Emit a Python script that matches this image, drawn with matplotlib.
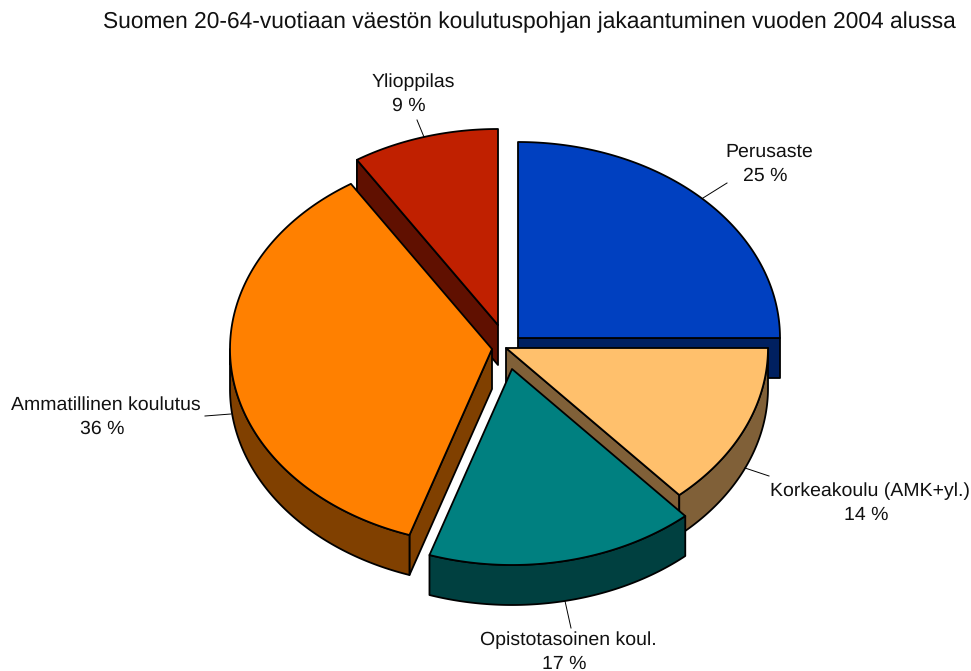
import numpy as np
import matplotlib
matplotlib.use("Agg")
import matplotlib.pyplot as plt

TITLE = "Suomen 20-64-vuotiaan väestön koulutuspohjan jakaantuminen vuoden 2004 alussa"
categories = ["Perusaste", "Korkeakoulu (AMK+yl.)", "Opistotasoinen koul.", "Ammatillinen koulutus", "Ylioppilas"]
percent_labels = ["25 %", "14 %", "17 %", "36 %", "9 %"]
values = [25.0, 13.5, 16.6, 35.85, 9.05]

top_colors = ["#0040C0", "#FFC06C", "#008080", "#FF8000", "#C02000"]
side_colors = ["#002060", "#806038", "#004040", "#804000", "#601000"]
apex_px = [(518, 338), (506, 348), (512, 369), (492, 349), (498, 325)]
label_px = [(769, 157), (870, 496), (568, 645.5), (106, 410), (413, 87)]
leaders_px = [((703, 198), (727, 183)), ((745, 468), (769, 476)), ((565, 601), (571, 628)),
              ((231, 414), (205, 416)), ((424, 137), (417, 120))]
draw_order = [4, 0, 3, 1, 2]
RX, RY, DEPTH = 262, 196, 40
START_ANGLE = 270
LINE_STEP, PCT_SHIFT = 23.5, -4

plt.rcParams["text.hinting"] = "no_hinting"
plt.rcParams["text.hinting_factor"] = 8
plt.rcParams["font.family"] = ["Liberation Sans", "DejaVu Sans"]

fig = plt.figure(figsize=(9.71, 6.71), dpi=100)
ax = fig.add_axes([0, 0, 1, 1])
ax.set_xlim(0, 971)
ax.set_ylim(671, 0)
ax.axis("off")

edges = START_ANGLE + np.concatenate([[0], np.cumsum(values)]) / sum(values) * 360


def rim(c, a0, a1, dy=0.0):
    t = np.radians(np.linspace(a0, a1, 160))
    return np.column_stack([c[0] + RX * np.cos(t), c[1] + dy + RY * np.sin(t)])


def poly(pts, fc, z):
    ax.fill(pts[:, 0], pts[:, 1], facecolor=fc, edgecolor="black", linewidth=1.3,
            joinstyle="round", zorder=z)


for z, i in enumerate(draw_order):
    c = np.array(apex_px[i], float)
    a0, a1 = edges[i], edges[i + 1]
    base = z * 10
    # cut faces whose outward normal points towards the viewer
    for a, facing in ((a0, -np.cos(np.radians(a0))), (a1, np.cos(np.radians(a1)))):
        if facing > 1e-6:
            e = rim(c, a, a)[0]
            poly(np.array([c, e, e + [0, DEPTH], c + [0, DEPTH]]), side_colors[i], base + 1)
    # outer curved wall: the part of the rim on the near half of the ellipse
    lo, hi = max(a0, 360), min(a1, 540)
    if hi > lo:
        poly(np.vstack([rim(c, lo, hi), rim(c, hi, lo, DEPTH)]), side_colors[i], base + 2)
    # top face
    poly(np.vstack([c, rim(c, a0, a1)]), top_colors[i], base + 3)

for (p, q) in leaders_px:
    ax.plot([p[0], q[0]], [p[1], q[1]], color="black", lw=0.7, zorder=100)

ax.text(529, 28.5, TITLE, ha="center", va="baseline", fontsize=16.35, color="#111111")
for name, pct, pos in zip(categories, percent_labels, label_px):
    ax.text(pos[0], pos[1], name, ha="center", va="baseline", fontsize=14.0,
            color="#111111", zorder=101)
    ax.text(pos[0] + PCT_SHIFT, pos[1] + LINE_STEP, pct, ha="center", va="baseline", fontsize=14.0,
            color="#111111", zorder=101)

fig.savefig("out.png", dpi=100)
